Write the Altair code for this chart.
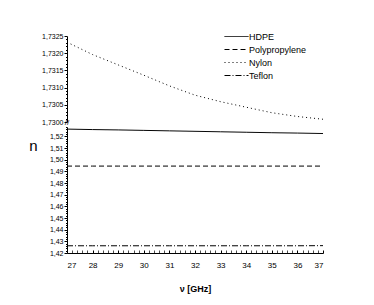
import altair as alt
import pandas as pd

freq = [27, 28, 29, 30, 31, 32, 33, 34, 35, 36, 37]
materials = ["HDPE", "Polypropylene", "Nylon", "Teflon"]
hdpe = [1.5262, 1.5258, 1.5255, 1.5251, 1.5247, 1.5243, 1.5239, 1.5235, 1.5231, 1.5228, 1.5224]
polypropylene = [1.4945, 1.4945, 1.4945, 1.4945, 1.4945, 1.4945, 1.4945, 1.4945, 1.4945, 1.4945, 1.4945]
nylon = [1.73232, 1.73196, 1.73166, 1.73136, 1.73105, 1.73078, 1.73059, 1.73043, 1.73027, 1.73016, 1.73008]
teflon = [1.4262, 1.4262, 1.4262, 1.4262, 1.4262, 1.4262, 1.4262, 1.4262, 1.4262, 1.4262, 1.4263]

top_ticks = [round(1.7300 + 0.0001 * i, 4) for i in range(26)]
bottom_ticks = [round(1.420 + 0.002 * i, 3) for i in range(55)]
x_ticks = [round(27 + 0.2 * i, 1) for i in range(51)]

series = {"HDPE": hdpe, "Polypropylene": polypropylene, "Nylon": nylon, "Teflon": teflon}
rows = []
for m in materials:
    for f, v in zip(freq, series[m]):
        rows.append({"f": f, "n": v, "mat": m})
df = pd.DataFrame(rows)

FONT = "Liberation Sans"
dash_scale = alt.Scale(domain=materials, range=[[1, 0], [5, 3], [1, 3], [6, 2, 1, 2]])

xscale = alt.Scale(domain=[27, 37], nice=False)

top_major = "abs(datum.value*2000 - round(datum.value*2000)) < 0.01"
bot_major = "abs(datum.value*100 - round(datum.value*100)) < 0.01"
x_major = "abs(datum.value - round(datum.value)) < 0.01"

top_y = alt.Y("n:Q", scale=alt.Scale(domain=[1.7300, 1.7325], nice=False, zero=False),
              axis=alt.Axis(values=top_ticks, title=None, grid=False, labelOverlap=False,
                            labelExpr=f"({top_major}) ? replace(format(datum.value, '.4f'), '.', ',') : ''",
                            labelFont=FONT, labelFontSize=7, labelColor="black", labelPadding=1,
                            domainColor="black", tickColor="black",
                            tickSize={"condition": {"test": top_major, "value": 3}, "value": 1.5}))
top_x = alt.X("f:Q", scale=xscale, axis=None)

top_line = alt.Chart(df[df.mat == "Nylon"]).mark_line(color="black", strokeWidth=1).encode(
    x=top_x,
    y=top_y,
    strokeDash=alt.StrokeDash("mat:N", scale=dash_scale,
                              legend=alt.Legend(title=None, orient="none", legendX=169, legendY=-6,
                                                symbolType="M-3,0H1", symbolSize=144,
                                                symbolStrokeColor="black", symbolStrokeWidth=1,
                                                labelFont=FONT, labelFontSize=9, labelColor="black",
                                                labelOffset=0, rowPadding=1)),
)

brk = alt.Chart(pd.DataFrame({"f": [freq[0]], "n": [1.7300]})).mark_text(
    text="//", font=FONT, fontSize=8, color="black", dy=1).encode(x=top_x, y=top_y)

top = alt.layer(top_line, brk).properties(width=256, height=86)

bottom = alt.Chart(df[df.mat != "Nylon"]).mark_line(color="black", strokeWidth=1).encode(
    x=alt.X("f:Q", scale=xscale,
            axis=alt.Axis(values=x_ticks, title="ν [GHz]", grid=False, labelOverlap=False,
                          labelExpr=f"({x_major}) ? format(datum.value, 'd') : ''",
                          labelFont=FONT, labelFontSize=8, labelColor="black", labelPadding=11,
                          domainColor="black", tickColor="black",
                          tickSize={"expr": "-3"},
                          tickWidth={"condition": {"test": x_major, "value": 1}, "value": 0.7},
                          titleFont=FONT, titleFontSize=9, titleFontWeight="bold", titleColor="black",
                          titlePadding=15)),
    y=alt.Y("n:Q", scale=alt.Scale(domain=[1.42, 1.528], nice=False, zero=False),
            axis=alt.Axis(values=bottom_ticks, title="n", grid=False, labelOverlap=False,
                          labelExpr=f"({bot_major}) ? replace(format(datum.value, '.2f'), '.', ',') : ''",
                          labelFont=FONT, labelFontSize=7, labelColor="black", labelPadding=1,
                          domainColor="black", tickColor="black",
                          tickSize={"condition": {"test": bot_major, "value": 3}, "value": 1.5},
                          titleFont=FONT, titleFontSize=15, titleFontWeight="normal", titleColor="black",
                          titleAngle=0, titleX=-34, titleY=18, titleAlign="center", titleBaseline="middle")),
    strokeDash=alt.StrokeDash("mat:N", scale=dash_scale, legend=None),
).properties(width=256, height=126)

chart = alt.vconcat(top, bottom, spacing=5, bounds="flush").properties(
    padding={"left": 20, "top": 22, "right": 5, "bottom": 5},
    background="white",
).configure_view(stroke=None)

chart.save("out.html", embed_options={"renderer": "svg", "actions": False})
